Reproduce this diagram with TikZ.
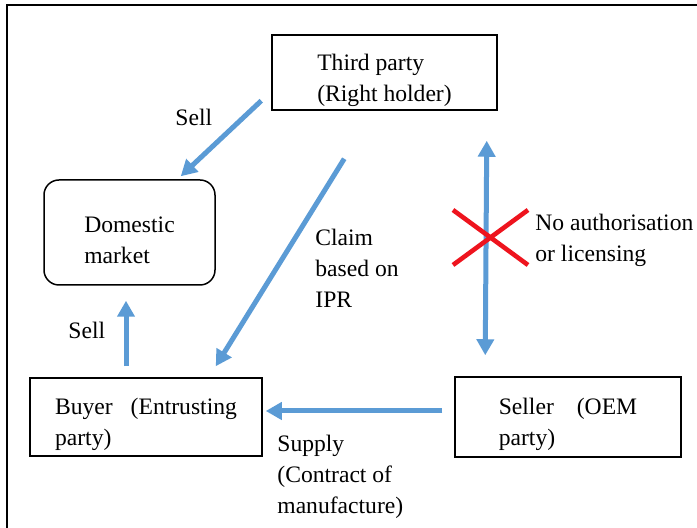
\documentclass[tikz,border=0pt]{standalone}
\usepackage{fontspec}
\setmainfont{Liberation Serif}
\usetikzlibrary{calc,arrows.meta}
\definecolor{flowblue}{RGB}{91,155,213}
\definecolor{crossred}{RGB}{238,20,30}
\newcommand\txt{\fontsize{11.8}{15.5}\selectfont}
\newcommand\boxstrut{\rule{0pt}{16pt}}
\tikzset{
  box/.style={draw,line width=0.75pt,align=left,font=\txt,inner ysep=0pt},
  flow/.style={draw=flowblue,line width=2.5pt,-{Triangle[length=8pt,width=8.5pt]}},
  lbl/.style={align=left,anchor=west,inner sep=0pt,font=\txt},
  cross/.style={draw=crossred,line width=2.3pt}
}
\begin{document}
\begin{tikzpicture}[x=0.5pt,y=-0.5pt]
  \useasboundingbox (0,0) rectangle (697,528);
  \draw[line width=1pt] (697,5) -- (7,5) -- (7,528);

  % the four parties
  \node[box,minimum width=112.5pt,minimum height=37.5pt] (third) at (384.5,72.5) {\boxstrut Third party\\(Right holder)};
  \node[box,rounded corners=7.5pt,minimum width=85.5pt,minimum height=52.5pt] (market) at (129.5,232.5) {\boxstrut Domestic\\market};
  \node[box,minimum width=116pt,minimum height=39pt] (buyer) at (146,417) {\boxstrut Buyer\hspace{9pt}(Entrusting\\party)};
  \node[box,minimum width=113pt,minimum height=40pt] (seller) at (568,417) {\boxstrut Seller\hspace{11.5pt}(OEM\\party)};

  % flows
  \draw[flow] ($(third.south west)+(-10,-10)$) -- ($(market.north east)+(-35,-3)$);
  \draw[flow] ($(third.south west)+(73,48)$) -- ($(buyer.north east)+(-47,-11)$);
  \draw[flow,{Triangle[length=8pt,width=8.5pt]}-{Triangle[length=8pt,width=8.5pt]}] ($(third.south east)+(-11,30)$) -- ($(seller.north west)+(31,-21)$);
  \draw[flow] ($(seller.west)+(-12,-6)$) -- ($(buyer.east)+(3,-6)$);
  \draw[flow] ($(buyer.north)+(-20,-11)$) -- ($(market.south)+(-3.5,15)$);

  \draw[cross] (453,210) -- (528,265) (453,265) -- (528,210);

  % labels
  \node[lbl] (sellA) at (175,117) {Sell};
  \node[lbl] (sellB) at (68,330) {Sell};
  \node[lbl] (claim) at (315,268) {Claim\\based on\\IPR};
  \node[lbl] (nolic) at (535,240) {No authorisation\\or licensing};
  \node[lbl] (supply) at (277,477) {Supply\\(Contract of\\manufacture)};
\end{tikzpicture}
\end{document}
